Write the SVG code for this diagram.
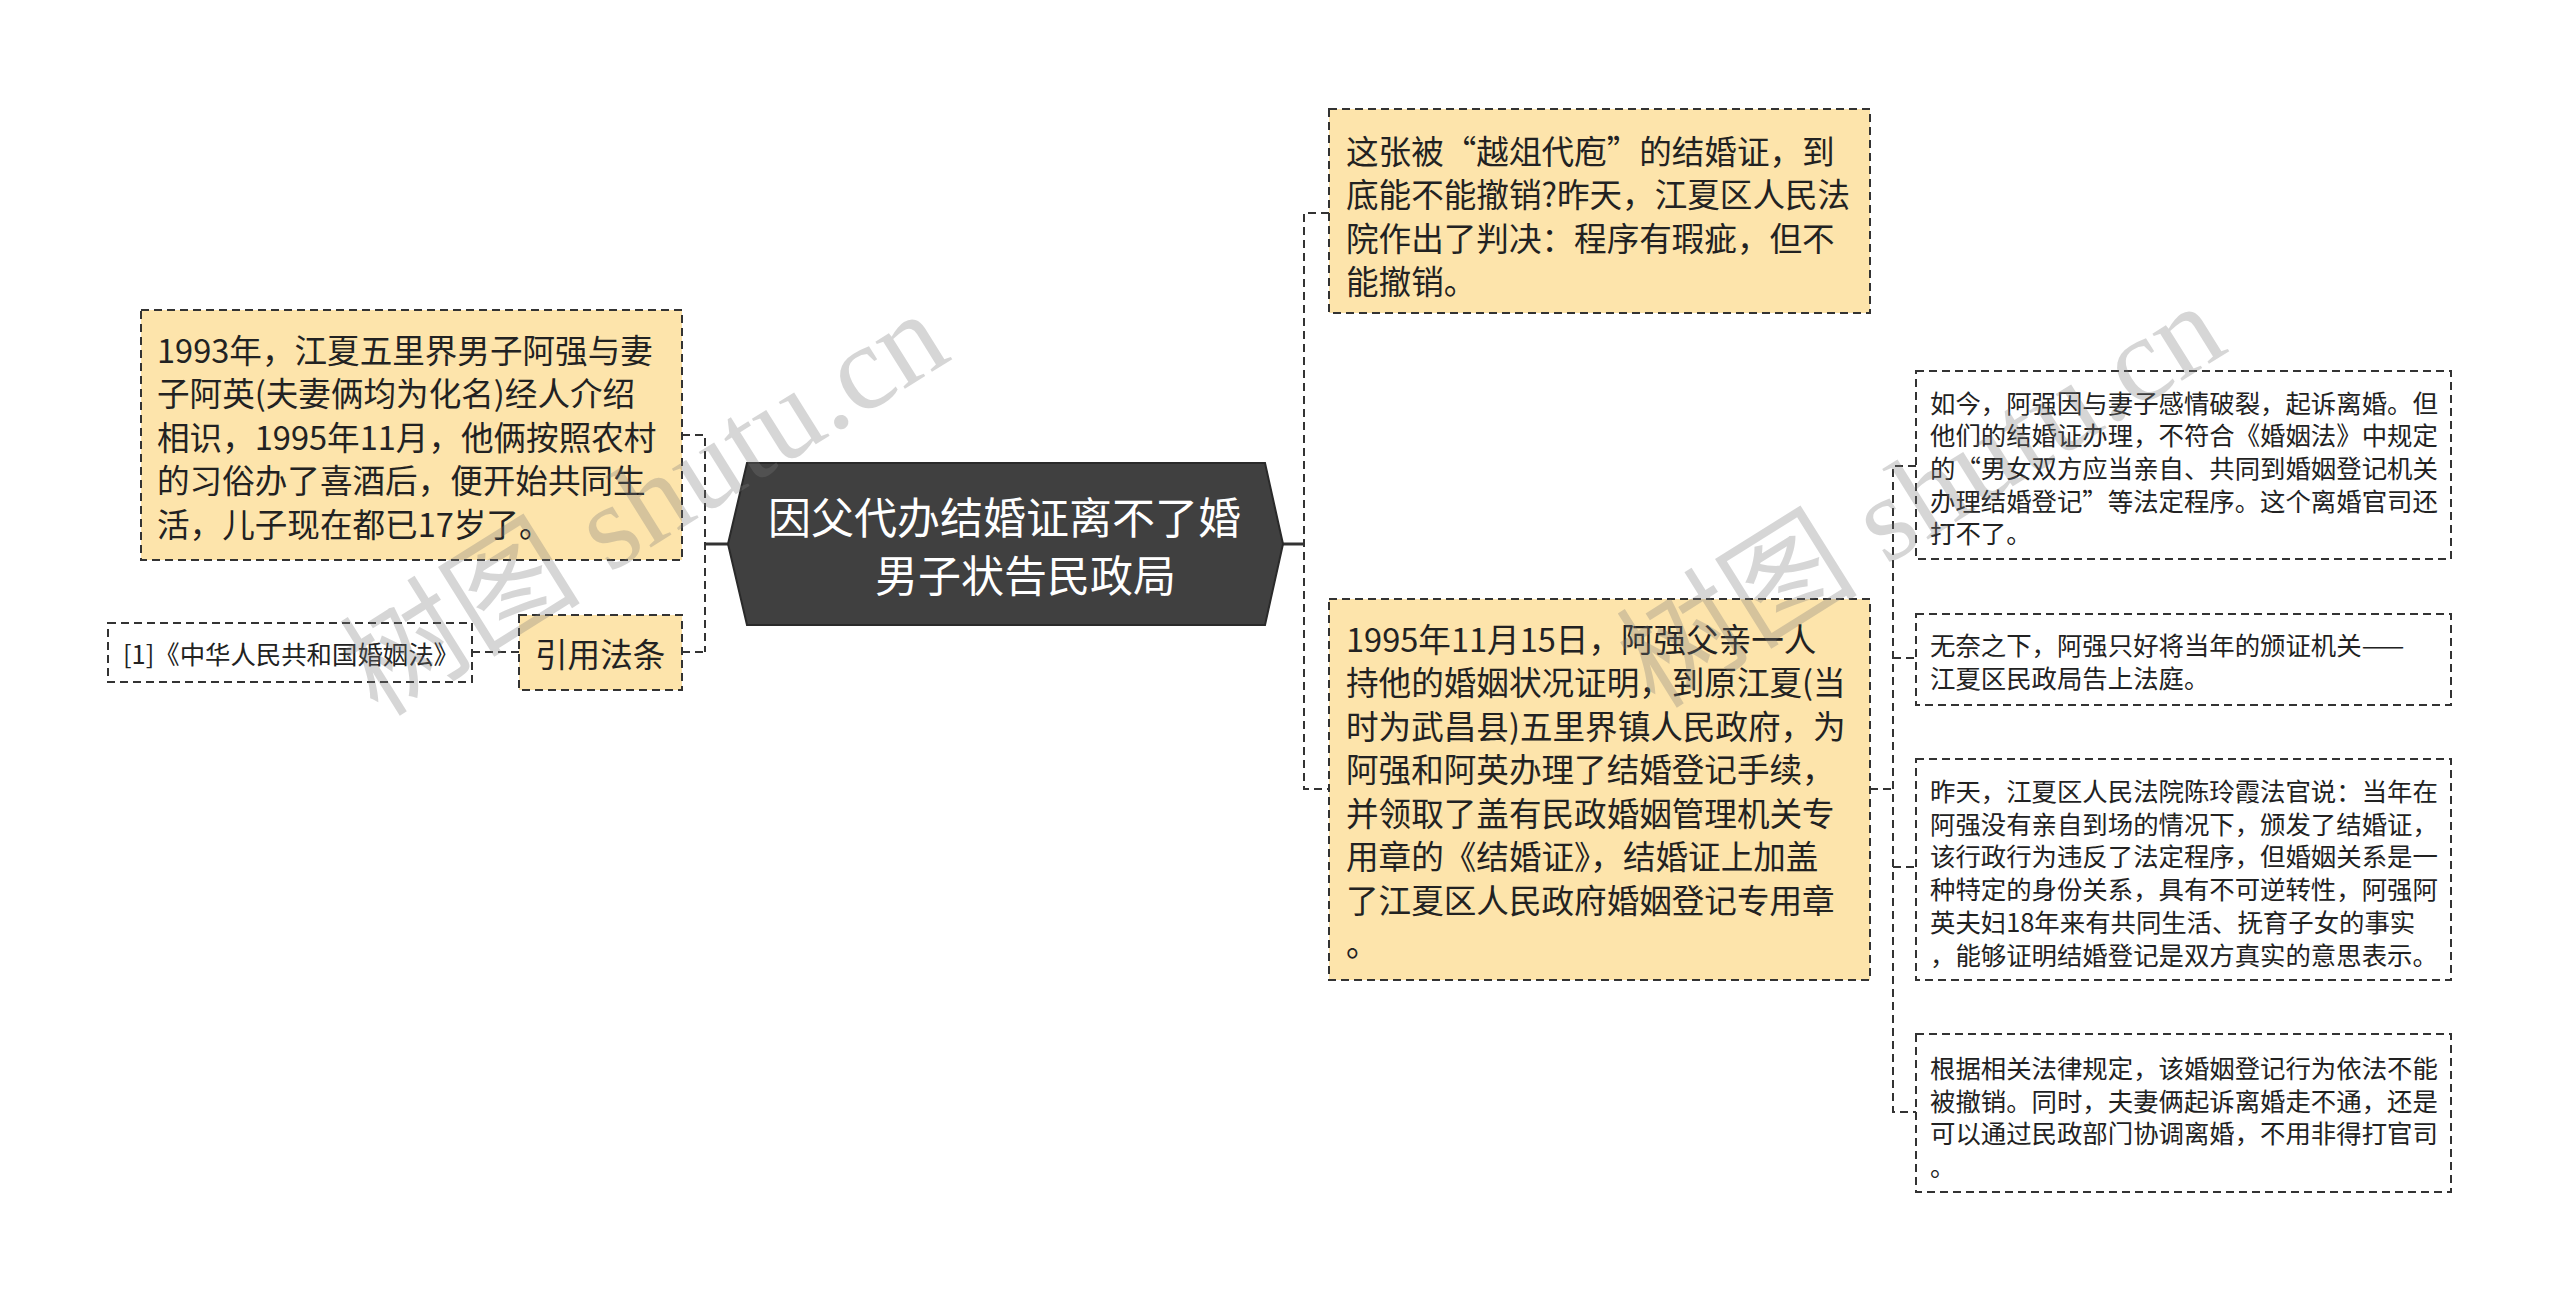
<svg xmlns="http://www.w3.org/2000/svg" width="2560" height="1301" viewBox="0 0 2560 1301">
<style>
.bg{fill:#ffffff}
.box{fill:#fde4ab;stroke:#333333;stroke-width:2;stroke-dasharray:8 5}
.wbox{fill:#ffffff;stroke:#333333;stroke-width:2;stroke-dasharray:8 5}
.dash{fill:none;stroke:#333333;stroke-width:2;stroke-dasharray:8 5}
.solid{fill:none;stroke:#333333;stroke-width:3}
.t{font-family:"Noto Sans CJK SC","Microsoft YaHei",sans-serif;fill:#222222;dominant-baseline:central}
.big{font-size:32.6px}
.small{font-size:25.4px}
.title{font-family:"Noto Sans CJK SC",sans-serif;font-size:43px;fill:#ffffff;dominant-baseline:central}
.wm{font-family:"Liberation Serif","Noto Sans CJK SC",serif;font-size:121px;fill:#7a7a7a;opacity:0.3}
</style>
<rect class="bg" x="0" y="0" width="2560" height="1301"/>

<g id="connectors">
  <line class="solid" x1="705" y1="544" x2="728" y2="544"/>
  <path class="dash" d="M682 435 H705 V652 M682 652 H705"/>
  <line class="dash" x1="472" y1="652" x2="519" y2="652"/>
  <line class="solid" x1="1283" y1="544" x2="1304" y2="544"/>
  <path class="dash" d="M1329 213 H1304 V789 H1329"/>
  <path class="dash" d="M1870 789 H1893"/>
  <path class="dash" d="M1916 466 H1893 V1112 H1916 M1893 658 H1916 M1893 867 H1916"/>
</g>

<g id="root">
  <polygon points="728,544 747,463 1265,463 1283,544 1265,625 747,625" fill="#404040" stroke="#2a2a2a" stroke-width="2"/>
  <text class="title" x="768" y="515">因父代办结婚证离不了婚</text>
  <text class="title" x="875" y="573">男子状告民政局</text>
</g>

<g id="node-left-1">
  <rect class="box" x="141" y="310" width="541" height="250"/>
  <text class="t big" x="157" y="348">1993年，江夏五里界男子阿强与妻</text>
  <text class="t big" x="157" y="391.5">子阿英(夫妻俩均为化名)经人介绍</text>
  <text class="t big" x="157" y="435">相识，1995年11月，他俩按照农村</text>
  <text class="t big" x="157" y="478.5">的习俗办了喜酒后，便开始共同生</text>
  <text class="t big" x="157" y="522">活，儿子现在都已17岁了。</text>
</g>

<g id="node-law">
  <rect class="box" x="519" y="615" width="163" height="75"/>
  <text class="t big" x="535" y="652">引用法条</text>
</g>

<g id="node-law-ref">
  <rect class="wbox" x="108" y="623" width="364" height="59"/>
  <text class="t small" x="123" y="653">[1]《中华人民共和国婚姻法》</text>
</g>

<g id="node-right-1">
  <rect class="box" x="1329" y="109" width="541" height="204"/>
  <text class="t big" x="1346" y="149">这张被“越俎代庖”的结婚证，到</text>
  <text class="t big" x="1346" y="192.5">底能不能撤销?昨天，江夏区人民法</text>
  <text class="t big" x="1346" y="236">院作出了判决：程序有瑕疵，但不</text>
  <text class="t big" x="1346" y="279.5">能撤销。</text>
</g>

<g id="node-right-2">
  <rect class="box" x="1329" y="599" width="541" height="381"/>
  <text class="t big" x="1346" y="637">1995年11月15日，阿强父亲一人</text>
  <text class="t big" x="1346" y="680.5">持他的婚姻状况证明，到原江夏(当</text>
  <text class="t big" x="1346" y="724">时为武昌县)五里界镇人民政府，为</text>
  <text class="t big" x="1346" y="767.5">阿强和阿英办理了结婚登记手续，</text>
  <text class="t big" x="1346" y="811">并领取了盖有民政婚姻管理机关专</text>
  <text class="t big" x="1346" y="854.5">用章的《结婚证》，结婚证上加盖</text>
  <text class="t big" x="1346" y="898">了江夏区人民政府婚姻登记专用章</text>
  <text class="t big" x="1346" y="941.5">。</text>
</g>

<g id="node-detail-a">
  <rect class="wbox" x="1916" y="371" width="535" height="188"/>
  <text class="t small" x="1930" y="401.5">如今，阿强因与妻子感情破裂，起诉离婚。但</text>
  <text class="t small" x="1930" y="434.2">他们的结婚证办理，不符合《婚姻法》中规定</text>
  <text class="t small" x="1930" y="466.9">的“男女双方应当亲自、共同到婚姻登记机关</text>
  <text class="t small" x="1930" y="499.6">办理结婚登记”等法定程序。这个离婚官司还</text>
  <text class="t small" x="1930" y="532.3">打不了。</text>
</g>

<g id="node-detail-b">
  <rect class="wbox" x="1916" y="614" width="535" height="91"/>
  <text class="t small" x="1930" y="644">无奈之下，阿强只好将当年的颁证机关——</text>
  <text class="t small" x="1930" y="677">江夏区民政局告上法庭。</text>
</g>

<g id="node-detail-c">
  <rect class="wbox" x="1916" y="759" width="535" height="221"/>
  <text class="t small" x="1930" y="790">昨天，江夏区人民法院陈玲霞法官说：当年在</text>
  <text class="t small" x="1930" y="822.7">阿强没有亲自到场的情况下，颁发了结婚证，</text>
  <text class="t small" x="1930" y="855.4">该行政行为违反了法定程序，但婚姻关系是一</text>
  <text class="t small" x="1930" y="888.1">种特定的身份关系，具有不可逆转性，阿强阿</text>
  <text class="t small" x="1930" y="920.8">英夫妇18年来有共同生活、抚育子女的事实</text>
  <text class="t small" x="1930" y="953.5">，能够证明结婚登记是双方真实的意思表示。</text>
</g>

<g id="node-detail-d">
  <rect class="wbox" x="1916" y="1034" width="535" height="158"/>
  <text class="t small" x="1930" y="1067">根据相关法律规定，该婚姻登记行为依法不能</text>
  <text class="t small" x="1930" y="1099.7">被撤销。同时，夫妻俩起诉离婚走不通，还是</text>
  <text class="t small" x="1930" y="1132.4">可以通过民政部门协调离婚，不用非得打官司</text>
  <text class="t small" x="1930" y="1165.1">。</text>
</g>

<g id="watermarks">
  <text class="wm" transform="translate(378,718) rotate(-32)">树图 shutu.cn</text>
  <text class="wm" transform="translate(1655,710) rotate(-32)">树图 shutu.cn</text>
</g>
</svg>
